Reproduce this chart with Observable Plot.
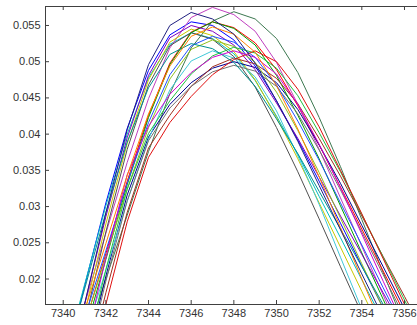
<!DOCTYPE html>
<html>
<head>
<meta charset="utf-8">
<script src="https://cdn.jsdelivr.net/npm/d3@7"></script>
<script src="https://cdn.jsdelivr.net/npm/@observablehq/plot@0.6"></script>
<style>
  html, body { margin: 0; padding: 0; background: #ffffff; }
  #chart svg { display: block; }
</style>
</head>
<body>
<div id="chart"></div>
<script>
// Sample positions (x) shared by every curve
const xs = [7340, 7341, 7342, 7343, 7344, 7345, 7346, 7347, 7348, 7349, 7350, 7351, 7352, 7353, 7354, 7355, 7356, 7357];

// Curve values, one array per line
const s1  = [0.0070, 0.0190, 0.0305, 0.0408, 0.0488, 0.0537, 0.0555, 0.0550, 0.0530, 0.0494, 0.0446, 0.0392, 0.0335, 0.0277, 0.0218, 0.0160, 0.0102, 0.0044];
const s2  = [0.0024, 0.0112, 0.0200, 0.0288, 0.0376, 0.0456, 0.0519, 0.0556, 0.0569, 0.0559, 0.0532, 0.0485, 0.0423, 0.0355, 0.0282, 0.0209, 0.0136, 0.0063];
const s3  = [0.0035, 0.0135, 0.0235, 0.0335, 0.0426, 0.0498, 0.0541, 0.0555, 0.0547, 0.0526, 0.0489, 0.0439, 0.0385, 0.0327, 0.0269, 0.0211, 0.0153, 0.0095];
const s4  = [0.0083, 0.0192, 0.0301, 0.0400, 0.0478, 0.0524, 0.0540, 0.0532, 0.0511, 0.0474, 0.0425, 0.0372, 0.0314, 0.0257, 0.0199, 0.0142, 0.0084, 0.0027];
const s5  = [0.0067, 0.0165, 0.0263, 0.0361, 0.0449, 0.0519, 0.0561, 0.0575, 0.0565, 0.0542, 0.0499, 0.0441, 0.0379, 0.0312, 0.0245, 0.0178, 0.0111, 0.0044];
const s6  = [0.0030, 0.0153, 0.0276, 0.0387, 0.0475, 0.0527, 0.0545, 0.0536, 0.0514, 0.0475, 0.0423, 0.0366, 0.0305, 0.0244, 0.0183, 0.0122, 0.0061, 0.0000];
const s7  = [0.0015, 0.0140, 0.0265, 0.0379, 0.0468, 0.0522, 0.0540, 0.0531, 0.0507, 0.0465, 0.0409, 0.0348, 0.0283, 0.0217, 0.0152, 0.0087, 0.0021, -0.0044];
const s8  = [-0.0010, 0.0082, 0.0204, 0.0316, 0.0396, 0.0441, 0.0471, 0.0491, 0.0500, 0.0492, 0.0471, 0.0434, 0.0385, 0.0332, 0.0274, 0.0217, 0.0159, 0.0102];
const s9  = [0.0021, 0.0124, 0.0227, 0.0330, 0.0423, 0.0496, 0.0540, 0.0555, 0.0546, 0.0523, 0.0481, 0.0426, 0.0366, 0.0301, 0.0236, 0.0172, 0.0107, 0.0042];
const s10 = [-0.0060, 0.0060, 0.0181, 0.0292, 0.0381, 0.0426, 0.0466, 0.0493, 0.0505, 0.0497, 0.0477, 0.0442, 0.0394, 0.0342, 0.0287, 0.0231, 0.0176, 0.0120];
const s11 = [0.0023, 0.0118, 0.0212, 0.0307, 0.0393, 0.0461, 0.0501, 0.0515, 0.0505, 0.0479, 0.0432, 0.0370, 0.0303, 0.0230, 0.0158, 0.0085, 0.0013, -0.0060];
const s12 = [0.0044, 0.0165, 0.0286, 0.0395, 0.0481, 0.0533, 0.0550, 0.0542, 0.0523, 0.0489, 0.0443, 0.0394, 0.0341, 0.0287, 0.0234, 0.0181, 0.0128, 0.0074];
const s13 = [0.0043, 0.0137, 0.0231, 0.0324, 0.0409, 0.0476, 0.0517, 0.0530, 0.0521, 0.0499, 0.0458, 0.0405, 0.0347, 0.0284, 0.0221, 0.0159, 0.0096, 0.0033];
const s14 = [-0.0040, 0.0075, 0.0197, 0.0308, 0.0391, 0.0436, 0.0466, 0.0486, 0.0495, 0.0487, 0.0466, 0.0428, 0.0378, 0.0323, 0.0265, 0.0206, 0.0147, 0.0089];
const s15 = [0.0054, 0.0146, 0.0239, 0.0332, 0.0416, 0.0482, 0.0522, 0.0535, 0.0527, 0.0506, 0.0468, 0.0418, 0.0364, 0.0305, 0.0247, 0.0188, 0.0130, 0.0072];
const s16 = [-0.0010, 0.0090, 0.0213, 0.0324, 0.0401, 0.0446, 0.0483, 0.0508, 0.0520, 0.0512, 0.0491, 0.0453, 0.0402, 0.0348, 0.0289, 0.0230, 0.0171, 0.0112];
const s17 = [-0.0060, 0.0050, 0.0165, 0.0279, 0.0368, 0.0416, 0.0452, 0.0482, 0.0503, 0.0515, 0.0500, 0.0462, 0.0410, 0.0350, 0.0290, 0.0228, 0.0165, 0.0100];
const s18 = [0.0080, 0.0186, 0.0292, 0.0389, 0.0464, 0.0510, 0.0525, 0.0518, 0.0499, 0.0466, 0.0421, 0.0373, 0.0321, 0.0269, 0.0217, 0.0165, 0.0113, 0.0061];
const s19 = [-0.0015, 0.0105, 0.0229, 0.0344, 0.0411, 0.0455, 0.0485, 0.0506, 0.0515, 0.0506, 0.0483, 0.0441, 0.0386, 0.0326, 0.0262, 0.0197, 0.0133, 0.0068];
const s20 = [0.0062, 0.0156, 0.0249, 0.0343, 0.0428, 0.0494, 0.0535, 0.0548, 0.0538, 0.0513, 0.0467, 0.0407, 0.0341, 0.0271, 0.0200, 0.0130, 0.0059, -0.0011];
const s21 = [0.0039, 0.0165, 0.0291, 0.0406, 0.0496, 0.0550, 0.0568, 0.0559, 0.0538, 0.0498, 0.0446, 0.0390, 0.0329, 0.0268, 0.0207, 0.0147, 0.0086, 0.0025];

const seriesList = [s1, s2, s3, s4, s5, s6, s7, s8, s9, s10, s11, s12, s13, s14, s15, s16, s17, s18, s19, s20, s21];

const colors = ["#0000ff", "#3c7850", "#ff0000", "#00c0c0", "#c040c0", "#c8c800", "#505050",
                "#000090", "#00a000", "#a03020", "#40c8d8", "#8000c0", "#90c020", "#707070",
                "#2050ff", "#20c040", "#e01010", "#009090", "#d000d0", "#ff8000", "#202080"];

// Axis ticks
const xTicks = [7340, 7342, 7344, 7346, 7348, 7350, 7352, 7354, 7356];
const yTicks = [0.02, 0.025, 0.03, 0.035, 0.04, 0.045, 0.05, 0.055];
const yTickLabels = ["0.02", "0.025", "0.03", "0.035", "0.04", "0.045", "0.05", "0.055"];

const xDomain = [7339.17, 7356.61];
const yDomain = [0.01648, 0.05762];

const W = 417, H = 325;
const mL = 45, mR = 0, mT = 6, mB = 21;
const plotW = W - mL - mR, plotH = H - mT - mB;
const axisColor = "#404040";
const textColor = "#333333";

const lineMarks = seriesList.map((s, i) =>
  Plot.line(xs, {x: d => d, y: (d, j) => s[j], stroke: colors[i], strokeWidth: 1, clip: true})
);

const chart = Plot.plot({
  width: W,
  height: H,
  marginLeft: mL,
  marginRight: mR,
  marginTop: mT,
  marginBottom: mB,
  style: {fontFamily: "'Liberation Sans', Arial, sans-serif", fontSize: "11px", color: textColor, background: "#ffffff"},
  x: {domain: xDomain, axis: null},
  y: {domain: yDomain, axis: null},
  marks: [
    ...lineMarks,
    Plot.ruleX([xDomain[0]], {stroke: axisColor, strokeWidth: 1}),
    Plot.ruleY([yDomain[0]], {stroke: axisColor, strokeWidth: 1}),
    Plot.ruleY([yDomain[1]], {stroke: axisColor, strokeWidth: 1}),
    Plot.tickX(xTicks, {x: d => d, stroke: axisColor, insetTop: plotH - 4}),
    Plot.tickX(xTicks, {x: d => d, stroke: axisColor, insetBottom: plotH - 4}),
    Plot.tickY(yTicks, {y: d => d, stroke: axisColor, insetRight: plotW - 4}),
    Plot.axisX(xTicks, {anchor: "bottom", tickSize: 0, tickPadding: 5, tickFormat: d => String(d), fill: textColor, fontSize: 11}),
    Plot.axisY(yTicks, {anchor: "left", tickSize: 0, tickPadding: 5, tickFormat: (d, i) => yTickLabels[i], fill: textColor, fontSize: 11})
  ]
});

document.getElementById("chart").appendChild(chart);
</script>
</body>
</html>
